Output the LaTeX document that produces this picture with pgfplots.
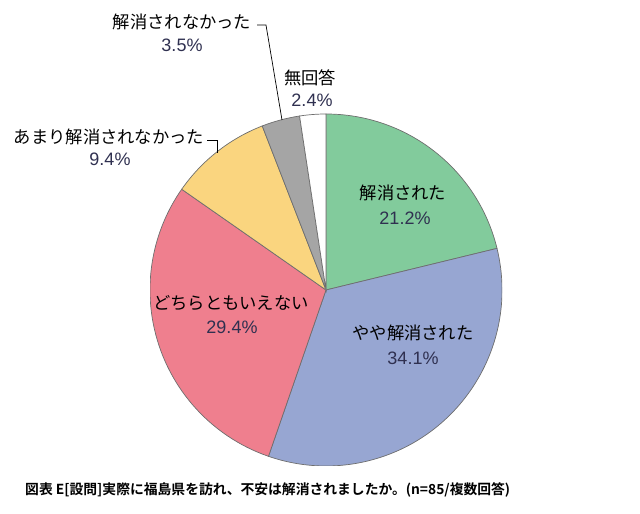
\documentclass[border=0pt]{standalone}
\usepackage{pgfplots}
\usepackage{pgfplotstable}
\pgfplotsset{compat=1.18}
\usepackage{fontspec}
\setmainfont{Liberation Sans}
\newfontfamily\jp{Noto Sans CJK JP}[BoldFont={Noto Sans CJK JP Bold}]

\definecolor{sgreen}{HTML}{82CB9C}
\definecolor{sblue}{HTML}{97A6D2}
\definecolor{spink}{HTML}{EF7F8E}
\definecolor{syellow}{HTML}{FAD57F}
\definecolor{sgray}{HTML}{A5A5A5}
\definecolor{pct}{HTML}{2F3050}
\definecolor{edge}{HTML}{6E6E6E}

% share of answers, clockwise from 12 o'clock
\pgfplotstableread{
value color
21.2 sgreen
34.1 sblue
29.4 spink
9.4 syellow
3.5 sgray
2.4 white
}\piedata

\begin{document}
\begin{tikzpicture}
\path[use as bounding box] (0,0) rectangle (640pt,514pt);
\begin{axis}[
  scale only axis,
  width=352pt, height=352pt,
  xmin=-1, xmax=1, ymin=-1, ymax=1,
  hide axis,
  at={(326pt,224pt)}, anchor=center,
]
\def\cum{0}
\pgfplotsforeachungrouped \i in {0,...,5}{
  \pgfplotstablegetelem{\i}{value}\of\piedata \let\v\pgfplotsretval
  \pgfplotstablegetelem{\i}{color}\of\piedata \let\c\pgfplotsretval
  \pgfmathsetmacro\sa{90-3.6*\cum}
  \pgfmathsetmacro\ea{90-3.6*(\cum+\v)}
  \edef\doslice{\noexpand\filldraw[fill=\c, draw=edge, line width=0.7pt]
    (axis cs:0,0) -- ++(\sa:176pt) arc[start angle=\sa, end angle=\ea, radius=176pt] -- cycle;}
  \doslice
  \pgfmathsetmacro\cum{\cum+\v}
}
\end{axis}

% labels
\tikzset{lab/.style={font=\jp\fontsize{17.3}{19}\selectfont, inner sep=0pt},
         pc/.style={font=\fontsize{18}{20}\selectfont, text=pct, inner sep=0pt}}
\node[lab] at (403pt,321pt) {解消された};
\node[pc]  at (405pt,296pt) {21.2\%};
\node[lab] at (413pt,181pt) {やや解消された};
\node[pc]  at (413pt,156pt) {34.1\%};
\node[lab] at (231pt,211pt) {どちらともいえない};
\node[pc]  at (232pt,187pt) {29.4\%};
\node[lab] at (109pt,377pt) {あまり解消されなかった};
\node[pc]  at (110pt,355pt) {9.4\%};
\node[lab] at (182pt,492pt) {解消されなかった};
\node[pc]  at (182pt,469pt) {3.5\%};
\node[lab] at (310pt,436pt) {無回答};
\node[pc]  at (312pt,414pt) {2.4\%};

% leader lines
\draw[black, line width=0.7pt] (207pt,374pt) -- (217pt,374pt) -- (217pt,361pt);
\draw[black, line width=0.7pt] (257pt,489pt) -- (266pt,489pt) -- (282pt,394pt);

% caption
\node[anchor=west, inner sep=0pt, font=\jp\bfseries\fontsize{13.8}{16}\selectfont]
  at (25pt,24pt) {図表 E[設問]実際に福島県を訪れ、不安は解消されましたか。(n=85/複数回答)};
\end{tikzpicture}
\end{document}
